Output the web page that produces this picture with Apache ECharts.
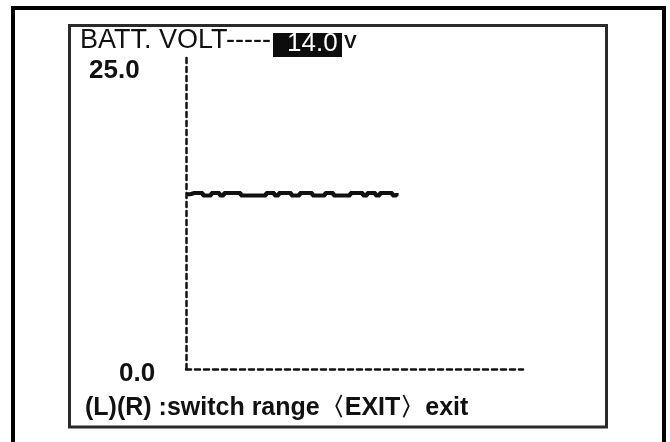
<!DOCTYPE html>
<html>
<head>
<meta charset="utf-8">
<script src="https://cdn.jsdelivr.net/npm/echarts@6/dist/echarts.min.js"></script>
<style>
  html, body { margin: 0; padding: 0; background: #fff; }
  #chart { width: 670px; height: 442px; }
</style>
</head>
<body>
<div id="chart"></div>
<script>
// datos de la pantalla
var titulo = 'BATT. VOLT-----';
var lectura = '14.0';
var unidad = 'V';
var yTicks = ['25.0', '0.0'];
var yMin = 0, yMax = 25;
var xMax = 80;
var pie = '(L)(R) :switch range〈EXIT〉exit';

// muestras de voltaje (una por paso)
var voltaje = [14.0, 14.1, 14.1, 14.1, 13.9, 13.9, 14.1, 14.1, 13.9, 14.1,
               14.1, 14.1, 14.1, 13.9, 13.9, 13.9, 13.9, 13.9, 13.9, 14.1,
               14.1, 13.9, 14.1, 14.1, 14.1, 13.9, 13.9, 14.1, 14.1, 14.1,
               13.9, 13.9, 13.9, 14.1, 14.1, 13.9, 13.9, 13.9, 13.9, 14.1,
               14.1, 14.1, 13.9, 14.1, 14.1, 13.9, 14.1, 14.1, 14.1, 13.9, 14.1];

var puntos = voltaje.map(function (v, i) { return [i, v]; });

var chart = echarts.init(document.getElementById('chart'));

var ejeLinea = {
  show: true,
  onZero: false,
  lineStyle: { color: '#111', width: 2.5, type: [5, 4] }
};

var fuente = '"Liberation Sans", Arial, sans-serif';

chart.setOption({
  animation: false,
  grid: { left: 186, top: 57, right: 147, bottom: 73 },
  xAxis: {
    type: 'value', min: 0, max: xMax,
    axisLine: ejeLinea,
    axisTick: { show: false },
    axisLabel: { show: false },
    splitLine: { show: false }
  },
  yAxis: {
    type: 'value', min: yMin, max: yMax,
    axisLine: ejeLinea,
    axisTick: { show: false },
    axisLabel: { show: false },
    splitLine: { show: false }
  },
  series: [{
    type: 'line',
    step: 'end',
    data: puntos,
    symbol: 'none',
    lineStyle: { color: '#111', width: 4 }
  }],
  graphic: [
    // marco exterior
    { type: 'rect', shape: { x: 13, y: 8, width: 651, height: 500 },
      style: { fill: 'none', stroke: '#000', lineWidth: 4 } },
    // marco interior
    { type: 'rect', shape: { x: 69.5, y: 25.5, width: 537, height: 401.5 },
      style: { fill: 'none', stroke: '#2a2a2a', lineWidth: 3 } },
    { type: 'text', left: 80, top: 27,
      style: { text: titulo, font: '27px ' + fuente, fill: '#111' } },
    { type: 'rect', shape: { x: 273, y: 33, width: 69, height: 24 },
      style: { fill: '#0d0d0d' } },
    { type: 'text', left: 287, top: 31,
      style: { text: lectura, font: '26px ' + fuente, fill: '#fff' } },
    { type: 'text', left: 344, top: 33,
      style: { text: unidad, font: 'bold 19px ' + fuente, fill: '#111' } },
    { type: 'text', left: 89, top: 58,
      style: { text: yTicks[0], font: 'bold 26px ' + fuente, fill: '#111' } },
    { type: 'text', left: 119, top: 361,
      style: { text: yTicks[1], font: 'bold 26px ' + fuente, fill: '#111' } },
    { type: 'text', left: 85, top: 396,
      style: { text: pie, font: 'bold 25px ' + fuente, fill: '#111' } }
  ]
});
</script>
</body>
</html>
